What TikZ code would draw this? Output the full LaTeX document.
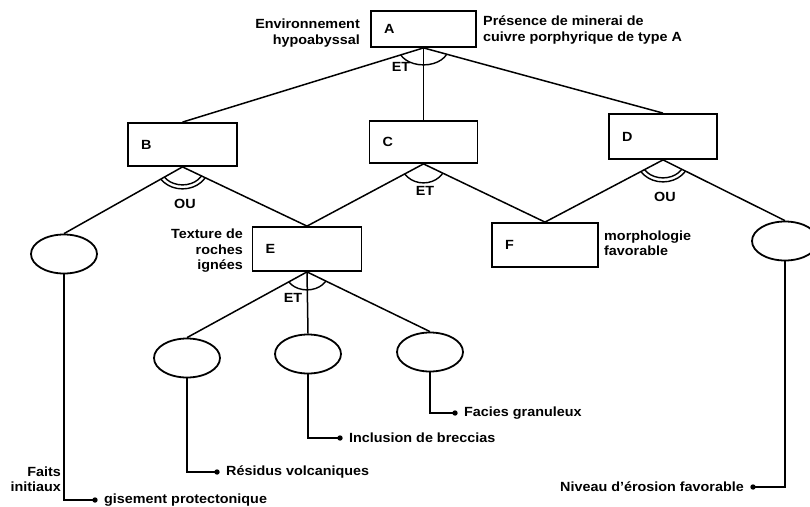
\documentclass[tikz,border=0pt]{standalone}
\usepackage{fontspec}
\setmainfont{Liberation Sans}[FakeStretch=1.08]
\usetikzlibrary{shapes.geometric,calc}
\begin{document}
\begin{tikzpicture}[x=1pt,y=-1pt,
  every node/.style={font=\fontsize{13.3}{15.5}\selectfont\bfseries, inner sep=1pt},
  box/.style={draw, line width=1.8pt, inner xsep=13pt, inner ysep=0pt, align=left},
  ell/.style={draw, ellipse, line width=1.8pt, minimum width=66pt, minimum height=39pt, inner sep=0pt},
  conn/.style={line width=1.5pt},
  arcl/.style={line width=1.4pt},
  dotc/.style={fill=black}
]
\useasboundingbox (0,0) rectangle (810,506);

% boxes
\node[box,text width=79pt,minimum height=36pt] (A) at (423.5,29) {A};
\node[box,text width=83pt,minimum height=43pt] (B) at (182.5,144.5) {B};
\node[box,text width=82pt,minimum height=42pt] (C) at (423.5,142) {C};
\node[box,text width=82pt,minimum height=45pt] (D) at (663,136.5) {D};
\node[box,text width=83pt,minimum height=44pt] (E) at (307,249) {E};
\node[box,text width=80pt,minimum height=44pt] (F) at (545,245) {F};

% ellipses
\node[ell] (L) at (64,254) {};
\node[ell] (R) at (785,241) {};
\node[ell] (e1) at (187,358) {};
\node[ell] (e2) at (308,354) {};
\node[ell] (e3) at (430,352) {};

% connectors
\draw[conn] (A.south) -- (B.north);
\draw[conn] (A.south) -- (C.north);
\draw[conn] (A.south) -- (D.north);
\draw[conn] (B.south) -- (L.north);
\draw[conn] (B.south) -- (E.north);
\draw[conn] (C.south) -- (E.north);
\draw[conn] (C.south) -- (F.north);
\draw[conn] (D.south) -- (F.north);
\draw[conn] (D.south) -- (R.north);
\draw[conn] (E.south) -- (e1.north);
\draw[conn] (E.south) -- (e2.north);
\draw[conn] (E.south) -- (e3.north);

% ET / OU arcs
\begin{scope}
  \clip (A.south) -- ($(A.south)!3!(B.north)$) -- ($(A.south)!3!(D.north)$) -- cycle;
  \draw[arcl] (A.south) circle[x radius=25pt, y radius=17pt];
\end{scope}
\begin{scope}
  \clip (B.south) -- ($(B.south)!3!(L.north)$) -- ($(B.south)!3!(E.north)$) -- cycle;
  \draw[arcl] (B.south) circle[x radius=22pt, y radius=18pt];
  \draw[arcl] (B.south) circle[x radius=26pt, y radius=22pt];
\end{scope}
\begin{scope}
  \clip (C.south) -- ($(C.south)!3!(E.north)$) -- ($(C.south)!3!(F.north)$) -- cycle;
  \draw[arcl] (C.south) circle[x radius=22pt, y radius=19pt];
\end{scope}
\begin{scope}
  \clip (D.south) -- ($(D.south)!3!(F.north)$) -- ($(D.south)!3!(R.north)$) -- cycle;
  \draw[arcl] (D.south) circle[x radius=22pt, y radius=18pt];
  \draw[arcl] (D.south) circle[x radius=26pt, y radius=22pt];
\end{scope}
\begin{scope}
  \clip (E.south) -- ($(E.south)!3!(e1.north)$) -- ($(E.south)!3!(e3.north)$) -- cycle;
  \draw[arcl] (E.south) circle[x radius=22pt, y radius=18pt];
\end{scope}

\node (etA) at (401,67) {ET};
\node (ouB) at (185,204) {OU};
\node (etC) at (425,191) {ET};
\node (ouD) at (665,197) {OU};
\node (etE) at (293,298) {ET};

% side labels
\node[anchor=east, align=right] (envt) at (361,33) {Environnement\\hypoabyssal};
\node[anchor=west, align=left] (pres) at (482,30) {Présence de minerai de\\cuivre porphyrique de type A};
\node[anchor=east, align=right] (tex) at (244,251) {Texture de\\roches\\ignées};
\node[anchor=west, align=left] (morph) at (603,243) {morphologie\\favorable};
\node[anchor=east, align=right] (faits) at (62,479) {Faits\\initiaux};

% leaders to initial facts
\coordinate (p3) at (455,413);
\coordinate (p2) at (340,438);
\coordinate (p1) at (217,472);
\coordinate (p0) at (95,500);
\coordinate (pR) at (753,487);
\draw[conn] (e3.south) |- (p3);
\draw[conn] (e2.south) |- (p2);
\draw[conn] (e1.south) |- (p1);
\draw[conn] (L.south) |- (p0);
\draw[conn] (R.south) |- (pR);
\foreach \p in {p0,p1,p2,p3,pR} \fill[dotc] (\p) circle[radius=2.7pt];
\node[anchor=west] (t3) at (463,413) {Facies granuleux};
\node[anchor=west] (t2) at (348,438) {Inclusion de breccias};
\node[anchor=west] (t1) at (225,472) {Résidus volcaniques};
\node[anchor=west] (t0) at (103,500) {gisement protectonique};
\node[anchor=east] (tR) at (745,487) {Niveau d’érosion favorable};
\end{tikzpicture}
\end{document}
